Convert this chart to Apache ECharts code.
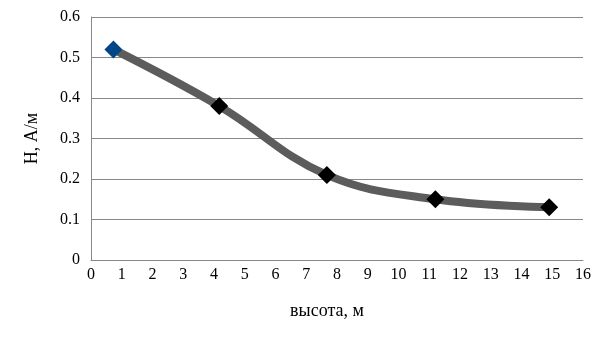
<!DOCTYPE html>
<html>
<head>
<meta charset="utf-8">
<script src="https://cdn.jsdelivr.net/npm/echarts@6/dist/echarts.min.js"></script>
<style>html,body{margin:0;padding:0;background:#fff;}#c{width:605px;height:340px;}</style>
</head>
<body>
<div id="c"></div>
<script>
var heights = [0.73, 4.17, 7.67, 11.2, 14.9];
var hValues = [0.52, 0.38, 0.21, 0.15, 0.13];
var xTicks = {min: 0, max: 16, interval: 1};
var yTicks = {min: 0, max: 0.6, interval: 0.1};
var xTitle = 'высота, м';
var yTitle = 'H, А/м';

var pts = heights.map(function (x, i) { return [x, hValues[i]]; });
var font = '"Liberation Serif", "DejaVu Serif", serif';
var chart = echarts.init(document.getElementById('c'));
chart.setOption({
  animation: false,
  backgroundColor: '#fff',
  grid: {left: 91, right: 22, top: 17, bottom: 80},
  xAxis: {
    type: 'value', min: xTicks.min, max: xTicks.max, interval: xTicks.interval,
    axisLine: {show: true, lineStyle: {color: '#888', width: 1}},
    axisTick: {show: false},
    splitLine: {show: false},
    axisLabel: {color: '#000', fontFamily: font, fontSize: 16, margin: 7},
    name: xTitle, nameLocation: 'middle', nameGap: 42,
    nameTextStyle: {color: '#000', fontFamily: font, fontSize: 18, padding: [0, 20, 0, 0]}
  },
  yAxis: {
    type: 'value', min: yTicks.min, max: yTicks.max, interval: yTicks.interval,
    axisLine: {show: true, lineStyle: {color: '#888', width: 1}},
    axisTick: {show: false},
    splitLine: {show: true, lineStyle: {color: '#888', width: 1}},
    axisLabel: {color: '#000', fontFamily: font, fontSize: 16, margin: 11,
      formatter: function (v) { return v === 0 ? '0' : v.toFixed(1); }},
    name: yTitle, nameLocation: 'middle', nameGap: 50,
    nameTextStyle: {color: '#000', fontFamily: font, fontSize: 18}
  },
  series: [{
    type: 'line',
    data: pts,
    smooth: 0.4,
    lineStyle: {color: '#5c5c5c', width: 8},
    symbol: 'diamond',
    symbolSize: 18,
    itemStyle: {color: function (p) { return p.dataIndex === 0 ? '#004586' : '#000'; }},
    z: 3
  }]
});
</script>
</body>
</html>
